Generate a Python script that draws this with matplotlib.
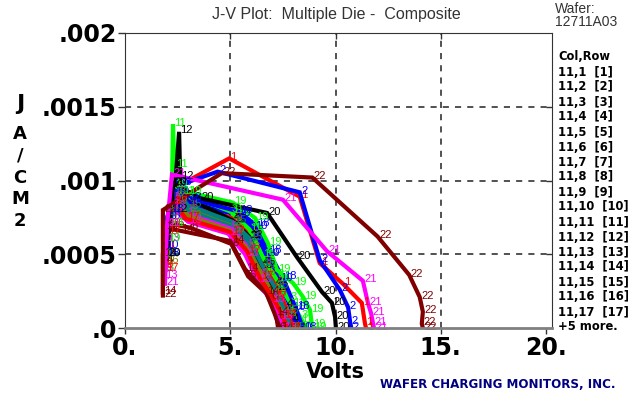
import matplotlib
matplotlib.use("Agg")
import matplotlib.pyplot as plt

# J-V composite, one curve per die (volts, A/cm2)
die01_v = [2.0, 2.2, 2.5, 4.95, 8.3, 9.25, 10.35, 11.25, 11.4, 11.45]
die01_j = [.00055, .00085, .00096, .00115, .00089, .00044, .00030, .00017, .00003, 0]
die02_v = [1.95, 2.2, 2.6, 4.4, 8.3, 9.25, 10.2, 10.6, 10.7, 10.75]
die02_j = [.0005, .0008, .00097, .00106, .00092, .00046, .00026, .00014, .000035, 0]
die03_v = [1.95, 2.1, 2.4, 2.9, 5.0, 5.9, 6.6, 7.2, 7.8, 8.3, 8.6]
die03_j = [.0004, .0007, .00095, .00088, .00080, .00070, .00052, .00036, .00020, .00008, 0]
die04_v = [1.9, 2.1, 2.4, 3.0, 5.1, 5.9, 6.5, 7.1, 7.6, 7.9, 8.0]
die04_j = [.00045, .0008, .00098, .00085, .00074, .00064, .00044, .00030, .00015, .00005, 0]
die05_v = [1.9, 2.0, 2.3, 3.0, 5.0, 5.8, 6.4, 7.0, 7.4, 7.6]
die05_j = [.0004, .0007, .00088, .00078, .00068, .00056, .00036, .00022, .00008, 0]
die06_v = [1.9, 2.0, 2.4, 3.1, 5.05, 5.85, 6.9, 7.2, 7.27]
die06_j = [.00045, .00066, .00070, .00068, .00057, .00035, .00021, .000075, 0]
die07_v = [1.9, 2.05, 2.4, 3.0, 5.1, 5.9, 6.5, 7.0, 7.4, 7.6]
die07_j = [.0005, .00075, .00090, .00080, .00070, .00058, .00040, .00025, .00010, 0]
die08_v = [1.95, 2.1, 2.5, 3.1, 5.2, 6.0, 6.6, 7.1, 7.6, 7.8]
die08_j = [.0005, .0008, .00092, .00082, .00071, .00060, .00042, .00027, .00010, 0]
die09_v = [1.9, 2.1, 2.4, 3.0, 5.2, 6.0, 6.6, 7.2, 7.7, 8.0]
die09_j = [.00042, .00075, .00094, .00084, .00074, .00063, .00045, .00030, .00012, 0]
die10_v = [1.9, 2.0, 2.3, 2.9, 5.3, 6.1, 6.7, 7.3, 7.9, 8.2]
die10_j = [.00055, .00075, .00091, .00085, .00077, .00068, .00050, .00033, .00013, 0]
die11_v = [2.2, 2.28, 2.35, 2.7, 5.0, 5.9, 6.5, 7.2, 7.9, 8.3, 8.4]
die11_j = [.0007, .00138, .0011, .00092, .00079, .00067, .00049, .00033, .00016, .00005, 0]
die12_v = [2.3, 2.57, 2.62, 3.0, 5.1, 5.9, 6.5, 7.1, 7.6, 7.9]
die12_j = [.0008, .00133, .00102, .00088, .00073, .00062, .00042, .00027, .00010, 0]
die13_v = [1.85, 1.95, 2.2, 3.0, 4.9, 5.7, 6.3, 6.9, 7.3, 7.5]
die13_j = [.00035, .0006, .00082, .00072, .00064, .00050, .00032, .00019, .00007, 0]
die14_v = [1.8, 1.8, 1.9, 2.6, 5.0, 5.7, 6.7, 7.1, 7.35]
die14_j = [.00024, .00050, .00068, .00066, .00059, .00040, .00024, .00010, 0]
die15_v = [1.9, 2.05, 2.4, 3.0, 5.1, 5.9, 6.5, 7.1, 7.6, 7.9]
die15_j = [.0005, .00078, .00093, .00083, .00072, .00061, .00043, .00028, .00011, 0]
die16_v = [1.9, 2.0, 2.3, 3.0, 5.0, 5.8, 6.5, 7.0, 7.5, 7.7]
die16_j = [.00045, .0007, .00087, .00076, .00066, .00054, .00037, .00023, .00009, 0]
die17_v = [1.9, 2.0, 2.3, 2.9, 5.0, 5.8, 6.4, 7.0, 7.5, 7.7]
die17_j = [.0004, .00065, .00085, .00074, .00065, .00052, .00034, .00021, .00008, 0]
die18_v = [1.95, 2.1, 2.5, 3.0, 5.4, 6.2, 6.8, 7.5, 8.1, 8.45]
die18_j = [.0005, .0008, .00098, .00088, .00079, .00070, .00052, .00034, .00014, 0]
die19_v = [2.0, 2.3, 3.0, 5.13, 6.18, 6.79, 7.22, 7.98, 8.46, 8.79, 8.88, 8.9]
die19_j = [.0006, .00097, .00092, .00085, .000746, .000576, .000393, .000305, .00021, .000122, .00002, 0]
die20_v = [2.0, 2.3, 3.56, 6.75, 8.17, 9.36, 9.83, 9.98, 10.02]
die20_j = [.0005, .00098, .00088, .00078, .00048, .000244, .00017, .000075, 0]
die21_v = [1.9, 2.0, 2.23, 7.5, 9.6, 11.3, 11.54, 11.69, 11.78, 11.83]
die21_j = [.0003, .0007, .00104, .00087, .00052, .00032, .00017, .0001, .000034, 0]
die22_v = [1.8, 1.8, 4.6, 8.9, 12.0, 13.5, 14.0, 14.15, 14.1, 14.15]
die22_j = [.00022, .0008, .00105, .00102, .00062, .00036, .00021, .00011, .00003, 0]

die_v = [die01_v, die02_v, die03_v, die04_v, die05_v, die06_v, die07_v, die08_v,
         die09_v, die10_v, die11_v, die12_v, die13_v, die14_v, die15_v, die16_v,
         die17_v, die18_v, die19_v, die20_v, die21_v, die22_v]
die_j = [die01_j, die02_j, die03_j, die04_j, die05_j, die06_j, die07_j, die08_j,
         die09_j, die10_j, die11_j, die12_j, die13_j, die14_j, die15_j, die16_j,
         die17_j, die18_j, die19_j, die20_j, die21_j, die22_j]

palette = ['#ff0000', '#0000ff', '#00ff00', '#000000',
           '#ff00ff', '#800000', '#008080', '#808000']

legend_rows = ['11,%d  [%d]' % (k, k) for k in range(1, 18)]

x_ticks = [0, 5, 10, 15, 20]
x_labels = ['0.', '5.', '10.', '15.', '20.']
y_ticks = [0, .0005, .001, .0015, .002]
y_labels = ['.0', '.0005', '.001', '.0015', '.002']

W, H = 628, 397
fig = plt.figure(figsize=(W / 100, H / 100), dpi=100)
ax = fig.add_axes([125 / W, 1 - 328 / H, (552 - 125) / W, (328 - 33) / H])
ax.set_xlim(0, 20 * 427 / 421)
ax.set_ylim(0, .002)

# dashed grid
for g in [5, 10, 15]:
    ax.axvline(g, color='#222222', lw=1.1, ls=(0, (4, 4)), zorder=1)
for g in [.0005, .001, .0015]:
    ax.axhline(g, color='#222222', lw=1.1, ls=(0, (4, 4)), zorder=1)

for i, (v, j) in enumerate(zip(die_v, die_j)):
    c = palette[i % 8]
    ax.plot(v, j, color=c, lw=3.0, solid_joinstyle='miter', zorder=2 + i * 0.01)
    for xv, yv in zip(v, j):
        ax.annotate(str(i + 1), (xv, yv), xytext=(1, 1), textcoords='offset points',
                    ha='left', va='center', fontsize=8, color=c,
                    family='Liberation Sans', zorder=3, annotation_clip=False)

ax.set_xticks(x_ticks, labels=x_labels)
ax.set_yticks(y_ticks, labels=y_labels)
for lab in ax.get_xticklabels() + ax.get_yticklabels():
    lab.set_fontsize(17)
    lab.set_fontweight('bold')
    lab.set_family('DejaVu Sans')
ax.tick_params(axis='x', direction='out', length=4, width=1, pad=2, color='#333333')
ax.tick_params(axis='y', direction='out', length=5, width=1, pad=1, color='#333333')

top = ax.secondary_xaxis('top')
top.set_xticks([5, 10, 15], labels=['', '', ''])
top.tick_params(direction='in', length=4, width=1, color='#333333')
top.spines['top'].set_visible(False)
right = ax.secondary_yaxis('right')
right.set_yticks([.0005, .001, .0015], labels=['', '', ''])
right.tick_params(direction='in', length=4, width=1, color='#333333')
right.spines['right'].set_visible(False)

ax.spines['left'].set_color('#333333')
ax.spines['top'].set_color('#333333')
ax.spines['right'].set_color('#333333')
ax.spines['bottom'].set_color('#808080')
ax.spines['bottom'].set_linewidth(2)
ax.spines['bottom'].set_zorder(5)


def ftext(x, y, s, **kw):
    fig.text(x / W, 1 - y / H, s, **kw)


# titles and axis labels
ftext(336, 14, 'J-V Plot:  Multiple Die -  Composite', ha='center', va='center',
      fontsize=11.5, color='#333333', family='Liberation Sans')
ftext(555, 9, 'Wafer:', ha='left', va='center', fontsize=10, color='#333333',
      family='Liberation Sans')
ftext(555, 22, '12711A03', ha='left', va='center', fontsize=10, color='#333333',
      family='Liberation Sans')
ftext(20, 104, 'J', ha='center', va='center', fontsize=16, fontweight='bold')
for ch, yy in zip(['A', '/', 'C', 'M', '2'], [134, 156, 178, 199, 221]):
    ftext(20, yy, ch, ha='center', va='center', fontsize=13, fontweight='bold')
ftext(335, 372, 'Volts', ha='center', va='center', fontsize=15, fontweight='bold')
ftext(615, 384, 'WAFER CHARGING MONITORS, INC.', ha='right', va='center',
      fontsize=8.6, fontweight='bold', color='#000080')

# die legend
ftext(558, 56, 'Col,Row', ha='left', va='center', fontsize=8.3, fontweight='bold')
for k, row in enumerate(legend_rows):
    ftext(558, 72 + 15 * k, row, ha='left', va='center', fontsize=8.3, fontweight='bold')
ftext(558, 327, '+5 more.', ha='left', va='center', fontsize=8.3, fontweight='bold')

fig.savefig('out.png', dpi=100)
